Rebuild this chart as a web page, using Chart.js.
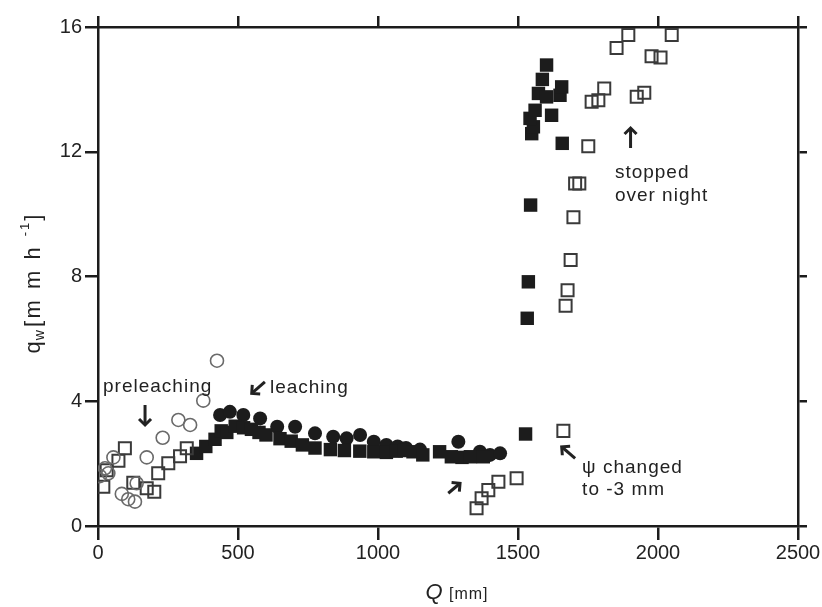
<!DOCTYPE html>
<html><head><meta charset="utf-8">
<script src="https://cdn.jsdelivr.net/npm/chart.js@4/dist/chart.umd.min.js"></script>
<style>html,body{margin:0;padding:0;background:#fff}canvas{display:block}</style>
</head><body>
<canvas id="c" width="822" height="607"></canvas>
<script>
// ---- axis ticks ----
const xTickValues = [0, 500, 1000, 1500, 2000, 2500];
const yTickValues = [0, 4, 8, 12, 16];

// ---- open circles (preleaching) ----
const openCircleQ  = [7, 25, 37, 55, 85, 108, 132, 138, 174, 231, 287, 329, 376, 425];
const openCircleQw = [1.60, 1.85, 1.69, 2.20, 1.03, 0.86, 0.78, 1.37, 2.20, 2.83, 3.40, 3.24, 4.02, 5.30];

// ---- open squares ----
const openSquareQ  = [19, 31, 73, 96, 126, 174, 201, 215, 251, 293, 317,
                      1352, 1370, 1394, 1430, 1495, 1662, 1670, 1677, 1688, 1698, 1704, 1719,
                      1751, 1763, 1787, 1808, 1852, 1894, 1924, 1951, 1977, 2009, 2049];
const openSquareQw = [1.26, 1.79, 2.09, 2.49, 1.39, 1.21, 1.10, 1.69, 2.01, 2.24, 2.49,
                      0.57, 0.89, 1.15, 1.42, 1.53, 3.05, 7.06, 7.56, 8.53, 9.90, 10.98, 10.98,
                      12.18, 13.60, 13.65, 14.03, 15.33, 15.74, 13.76, 13.89, 15.06, 15.02, 15.74];

// ---- filled squares ----
const filledSquareQ  = [352, 385, 418, 440, 460, 490, 520, 548, 575, 600, 650, 690, 730, 775, 830, 880,
                        935, 985, 1030, 1065, 1095, 1125, 1160, 1220, 1262, 1300, 1330, 1376,
                        1527, 1533, 1537, 1545, 1549, 1555, 1543, 1561, 1620, 1573, 1602, 1650, 1587, 1656, 1602, 1658];
const filledSquareQw = [2.33, 2.55, 2.78, 3.05, 3.00, 3.20, 3.15, 3.10, 3.00, 2.92, 2.80, 2.72, 2.60, 2.50, 2.45, 2.42,
                        2.40, 2.38, 2.36, 2.40, 2.42, 2.38, 2.28, 2.38, 2.22, 2.20, 2.22, 2.22,
                        2.95, 6.66, 7.83, 10.29, 12.58, 12.80, 13.07, 13.33, 13.17, 13.87, 13.76, 13.81, 14.32, 14.08, 14.78, 12.27];

// ---- filled circles ----
const filledCircleQ  = [436, 471, 519, 579, 640, 704, 775, 840, 888, 936, 985, 1030, 1070, 1100, 1150, 1287, 1364, 1400, 1436];
const filledCircleQw = [3.56, 3.66, 3.56, 3.45, 3.18, 3.18, 2.97, 2.86, 2.81, 2.92, 2.70, 2.60, 2.55, 2.50, 2.45, 2.70, 2.38, 2.28, 2.33];

// ---- annotation texts ----
const annotationTexts = [
  {text: 'preleaching', q: 18, v: 4.29},
  {text: 'leaching', q: 614, v: 4.26},
  {text: 'ψ changed', q: 1729, v: 1.70},
  {text: 'to -3 mm', q: 1729, v: 0.99},
  {text: 'stopped', q: 1846, v: 11.15},
  {text: 'over night', q: 1846, v: 10.42}
];
const annotationArrows = [
  {q1: 168, v1: 3.88, q2: 168, v2: 3.24},
  {q1: 596, v1: 4.62, q2: 549, v2: 4.25},
  {q1: 1251, v1: 1.05, q2: 1293, v2: 1.37},
  {q1: 1704, v1: 2.17, q2: 1656, v2: 2.54},
  {q1: 1902, v1: 12.12, q2: 1902, v2: 12.76}
];

const zip = (a, b) => a.map((v, i) => ({x: v, y: b[i]}));
const FONT = '"Liberation Sans", Arial, Helvetica, sans-serif';
const INK = '#1c1c1c';

const overlay = {
  id: 'overlay',
  afterDraw(chart) {
    const ctx = chart.ctx, xs = chart.scales.x, ys = chart.scales.y;
    ctx.save();
    ctx.fillStyle = '#222';
    ctx.strokeStyle = '#222';
    // annotation texts
    ctx.font = '19px ' + FONT;
    ctx.letterSpacing = '1px';
    ctx.textBaseline = 'alphabetic';
    ctx.textAlign = 'left';
    annotationTexts.forEach(a => {
      ctx.fillText(a.text, xs.getPixelForValue(a.q), ys.getPixelForValue(a.v));
    });
    // arrows
    ctx.lineWidth = 3;
    ctx.lineCap = 'butt';
    ctx.lineJoin = 'miter';
    annotationArrows.forEach(a => {
      const x1 = xs.getPixelForValue(a.q1), y1 = ys.getPixelForValue(a.v1);
      const x2 = xs.getPixelForValue(a.q2), y2 = ys.getPixelForValue(a.v2);
      const ang = Math.atan2(y2 - y1, x2 - x1);
      const L = 8.5;
      ctx.beginPath();
      ctx.moveTo(x1, y1); ctx.lineTo(x2 - Math.cos(ang) * 1.5, y2 - Math.sin(ang) * 1.5);
      ctx.stroke();
      ctx.beginPath();
      ctx.moveTo(x2 - L * Math.cos(ang - Math.PI / 4), y2 - L * Math.sin(ang - Math.PI / 4));
      ctx.lineTo(x2, y2);
      ctx.lineTo(x2 - L * Math.cos(ang + Math.PI / 4), y2 - L * Math.sin(ang + Math.PI / 4));
      ctx.stroke();
    });
    // y-axis title
    ctx.save();
    ctx.translate(34, 284);
    ctx.rotate(-Math.PI / 2);
    const parts = [
      {t: 'q', f: '22px', dy: 0, ls: '0px', gap: 1},
      {t: 'w', f: '14px', dy: 6, ls: '0px', gap: 3},
      {t: '[m m h ', f: '22px', dy: 0, ls: '2.5px', gap: 0},
      {t: '-1', f: '13px', dy: -9, ls: '2px', gap: 0},
      {t: ']', f: '22px', dy: 0, ls: '0px', gap: 0}
    ];
    let total = 0;
    parts.forEach(p => { ctx.font = p.f + ' ' + FONT; ctx.letterSpacing = p.ls; p.w = ctx.measureText(p.t).width + p.gap; total += p.w; });
    let x = -total / 2;
    ctx.textBaseline = 'middle';
    parts.forEach(p => { ctx.font = p.f + ' ' + FONT; ctx.letterSpacing = p.ls; ctx.fillText(p.t, x, p.dy); x += p.w; });
    ctx.restore();
    // x-axis title
    ctx.letterSpacing = '1px';
    ctx.textBaseline = 'alphabetic';
    ctx.font = 'italic 22px ' + FONT;
    const wq = ctx.measureText('Q').width;
    ctx.font = '16px ' + FONT;
    const wm = ctx.measureText(' [mm]').width;
    let sx = 457 - (wq + wm) / 2;
    ctx.font = 'italic 22px ' + FONT;
    ctx.fillText('Q', sx, 599);
    ctx.font = '16px ' + FONT;
    ctx.fillText(' [mm]', sx + wq, 599);
    ctx.restore();
  }
};

const axisCommon = (extra) => Object.assign({
  type: 'linear',
  border: {display: true, color: INK, width: 2.5}
}, extra);

new Chart(document.getElementById('c'), {
  type: 'scatter',
  data: {
    datasets: [
      {label: 'open circles', data: zip(openCircleQ, openCircleQw), pointStyle: 'circle', pointRadius: 6.5,
       backgroundColor: 'rgba(255,255,255,0)', borderColor: '#6a6a6a', borderWidth: 1.6},
      {label: 'open squares', data: zip(openSquareQ, openSquareQw), pointStyle: 'rect', pointRadius: 8.5,
       backgroundColor: 'rgba(255,255,255,0)', borderColor: '#3a3a3a', borderWidth: 2},
      {label: 'filled squares', data: zip(filledSquareQ, filledSquareQw), pointStyle: 'rect', pointRadius: 9.5,
       backgroundColor: INK, borderColor: INK, borderWidth: 0},
      {label: 'filled circles', data: zip(filledCircleQ, filledCircleQw), pointStyle: 'circle', pointRadius: 7,
       backgroundColor: INK, borderColor: INK, borderWidth: 0}
    ]
  },
  options: {
    responsive: false,
    animation: false,
    devicePixelRatio: 1,
    layout: {padding: 0},
    plugins: {legend: {display: false}, tooltip: {enabled: false}},
    scales: {
      x: axisCommon({position: 'bottom', min: 0, max: 2500,
        afterBuildTicks: s => { s.ticks = xTickValues.map(v => ({value: v})); },
        grid: {display: true, drawOnChartArea: false, color: INK, lineWidth: 2.5, tickLength: 14},
        ticks: {color: '#222', font: {family: FONT, size: 20}, padding: 1, maxRotation: 0,
                callback: v => String(v)},
        afterFit: s => { s.height = 81; }}),
      x2: axisCommon({position: 'top', min: 0, max: 2500,
        afterBuildTicks: s => { s.ticks = xTickValues.map(v => ({value: v})); },
        grid: {display: true, drawOnChartArea: false, color: INK, lineWidth: 2.5, tickLength: 11},
        ticks: {display: false},
        afterFit: s => { s.height = 27; }}),
      y: axisCommon({position: 'left', min: 0, max: 16,
        afterBuildTicks: s => { s.ticks = yTickValues.map(v => ({value: v})); },
        grid: {display: true, drawOnChartArea: false, color: INK, lineWidth: 2.5, tickLength: 13},
        ticks: {color: '#222', font: {family: FONT, size: 20}, padding: 3, callback: v => String(v)},
        afterFit: s => { s.width = 98; }}),
      y2: axisCommon({position: 'right', min: 0, max: 16,
        afterBuildTicks: s => { s.ticks = yTickValues.map(v => ({value: v})); },
        grid: {display: true, drawOnChartArea: false, color: INK, lineWidth: 2.5, tickLength: 9},
        ticks: {display: false},
        afterFit: s => { s.width = 24; }})
    }
  },
  plugins: [overlay]
});
</script>
</body></html>
